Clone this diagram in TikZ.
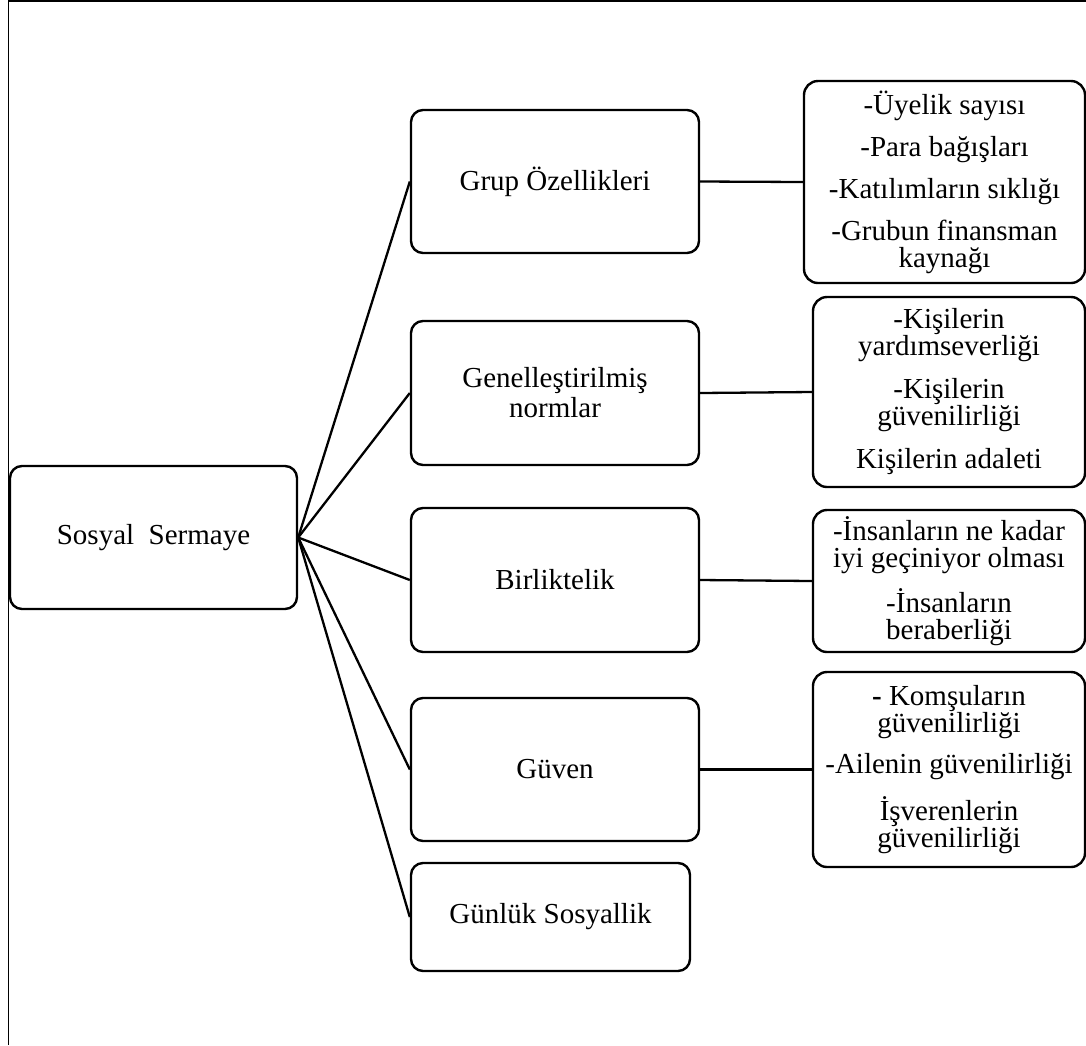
\documentclass[tikz,border=0pt]{standalone}
\usepackage{fontspec}
\setmainfont{Liberation Serif}
\begin{document}
\begin{tikzpicture}[x=1pt,y=-1pt,
  box/.style={draw, line width=2.4pt, rounded corners=12pt, align=center, inner sep=0pt, font=\fontsize{29}{30}\selectfont},
  rbox/.style={draw, line width=2.4pt, rounded corners=14pt, align=center, inner sep=0pt, font=\fontsize{29}{27}\selectfont},
  link/.style={line width=2.3pt},
  frame/.style={line width=1.6pt}]
\useasboundingbox (0,0) rectangle (1086,1045);
\fill[white] (0,0) rectangle (1086,1045);
\coordinate (fb) at (8.5,1045);
\coordinate (fc) at (8.5,1);
\coordinate (fr) at (1086,1);
\draw[frame] (fb) -- (fc) -- (fr);

\node[box, minimum width=287pt, minimum height=143pt] (ss) at (153.5,537.5) {Sosyal\ \ Sermaye};

\node[box, minimum width=288pt, minimum height=143pt] (gop) at (555,181.5) {Grup Özellikleri};
\node[box, minimum width=288pt, minimum height=144pt] (gn) at (555,393) {Genelleştirilmiş\\normlar};
\node[box, minimum width=288pt, minimum height=144pt] (bk) at (555,580) {Birliktelik};
\node[box, minimum width=288pt, minimum height=143pt] (gv) at (555,769.5) {Güven};
\node[box, minimum width=279pt, minimum height=108pt] (gs) at (550.5,917) {Günlük Sosyallik};

\node[rbox, minimum width=281pt, minimum height=202pt] (r1) at (944.5,182)
  {-Üyelik sayısı\\[15pt]-Para bağışları\\[15pt]-Katılımların sıklığı\\[15pt]-Grubun finansman\\kaynağı};
\node[rbox, minimum width=272pt, minimum height=190pt] (r2) at (949,392)
  {-Kişilerin\\yardımseverliği\\[16pt]-Kişilerin\\güvenilirliği\\[16pt]Kişilerin adaleti};
\node[rbox, minimum width=272pt, minimum height=142pt] (r3) at (949,581)
  {-İnsanların ne kadar\\iyi geçiniyor olması\\[14pt]-İnsanların\\beraberliği};
\node[rbox, minimum width=272pt, minimum height=195pt] (r4) at (949,769.5)
  {\textbf{-} Komşuların\\güvenilirliği\\[14pt]-Ailenin güvenilirliği\\[15pt]İşverenlerin\\güvenilirliği};

\foreach \t in {gop,gn,bk,gv,gs} \draw[link] (ss.east) -- (\t.west);
\draw[link] (gop.east) -- (r1.west);
\draw[link] (gn.east) -- (r2.west);
\draw[link] (bk.east) -- (r3.west);
\draw[link] (gv.east) -- (r4.west);
\end{tikzpicture}
\end{document}
